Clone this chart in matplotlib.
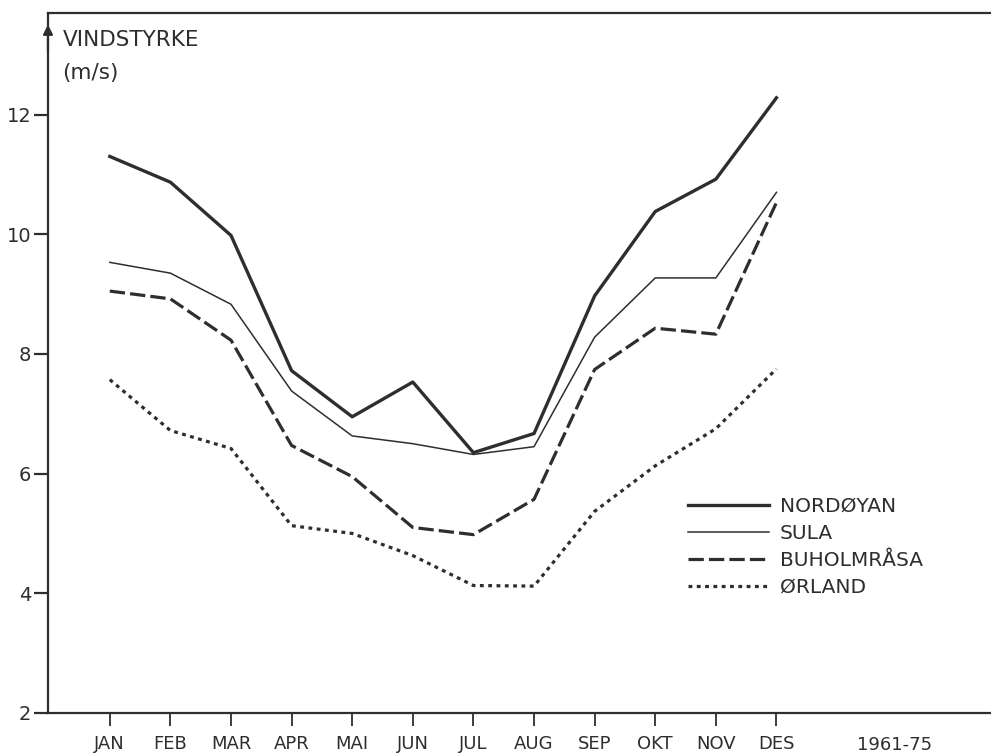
import numpy as np
import matplotlib.pyplot as plt

months = ["JAN", "FEB", "MAR", "APR", "MAI", "JUN", "JUL", "AUG", "SEP", "OKT", "NOV", "DES"]

# monthly mean wind speed (m/s), 1961-75
nordoyan = [11.3, 10.87, 9.98, 7.72, 6.95, 7.53, 6.35, 6.67, 8.97, 10.38, 10.92, 12.28]
sula = [9.53, 9.35, 8.83, 7.38, 6.63, 6.5, 6.32, 6.45, 8.28, 9.27, 9.27, 10.7]
buholmrasa = [9.05, 8.92, 8.23, 6.47, 5.95, 5.1, 4.98, 5.57, 7.74, 8.43, 8.33, 10.53]
orland = [7.57, 6.72, 6.42, 5.13, 5.0, 4.63, 4.13, 4.12, 5.37, 6.13, 6.75, 7.75]

ink = "#2e2e2e"
x = np.arange(1, 13)

fig = plt.figure(figsize=(9.91, 7.54), dpi=100)
ax = fig.add_axes([0.0484, 0.0544, 0.9516, 0.9286])

ax.plot(x, nordoyan, color=ink, lw=2.4, label="NORDØYAN")
ax.plot(x, sula, color=ink, lw=1.1, label="SULA")
ax.plot(x, buholmrasa, color=ink, lw=2.3, dashes=(4.8, 1.6), label="BUHOLMRÅSA")
ax.plot(x, orland, color=ink, lw=2.3, dashes=(1.2, 1.4), label="ØRLAND")

ax.set_xlim(-0.02, 15.54)
ax.set_ylim(2, 13.7)

ax.spines["right"].set_visible(False)
for s in ["left", "bottom", "top"]:
    ax.spines[s].set_color(ink)
    ax.spines[s].set_linewidth(1.6)

ax.set_xticks(x)
ax.set_xticklabels(months)
ax.set_yticks([2, 4, 6, 8, 10, 12])
ax.tick_params(axis="x", direction="out", length=9, width=1.3, color=ink,
               labelsize=13, labelcolor=ink, pad=7)
ax.tick_params(axis="y", direction="out", length=10, width=1.6, color=ink,
               labelsize=14, labelcolor=ink, pad=2)

ax.text(13.95, 1.62, "1961-75", ha="center", va="top", fontsize=13, color=ink,
        clip_on=False)

# little arrowhead on the y axis
ax.annotate("", xy=(-0.02, 13.55), xytext=(-0.02, 13.0),
            arrowprops=dict(arrowstyle="-|>", color=ink, lw=1.6,
                            mutation_scale=14), annotation_clip=False)

ax.text(0.22, 13.25, "VINDSTYRKE", fontsize=15.5, color=ink, va="center")
ax.text(0.22, 12.7, "(m/s)", fontsize=15.5, color=ink, va="center")

leg = ax.legend(loc="upper left", bbox_to_anchor=(0.679, 0.309), frameon=False,
                borderpad=0, borderaxespad=0, handlelength=4.0,
                handletextpad=0.55, labelspacing=0.4, fontsize=14.5)
for t in leg.get_texts():
    t.set_color(ink)

fig.savefig("out.png", dpi=100)
